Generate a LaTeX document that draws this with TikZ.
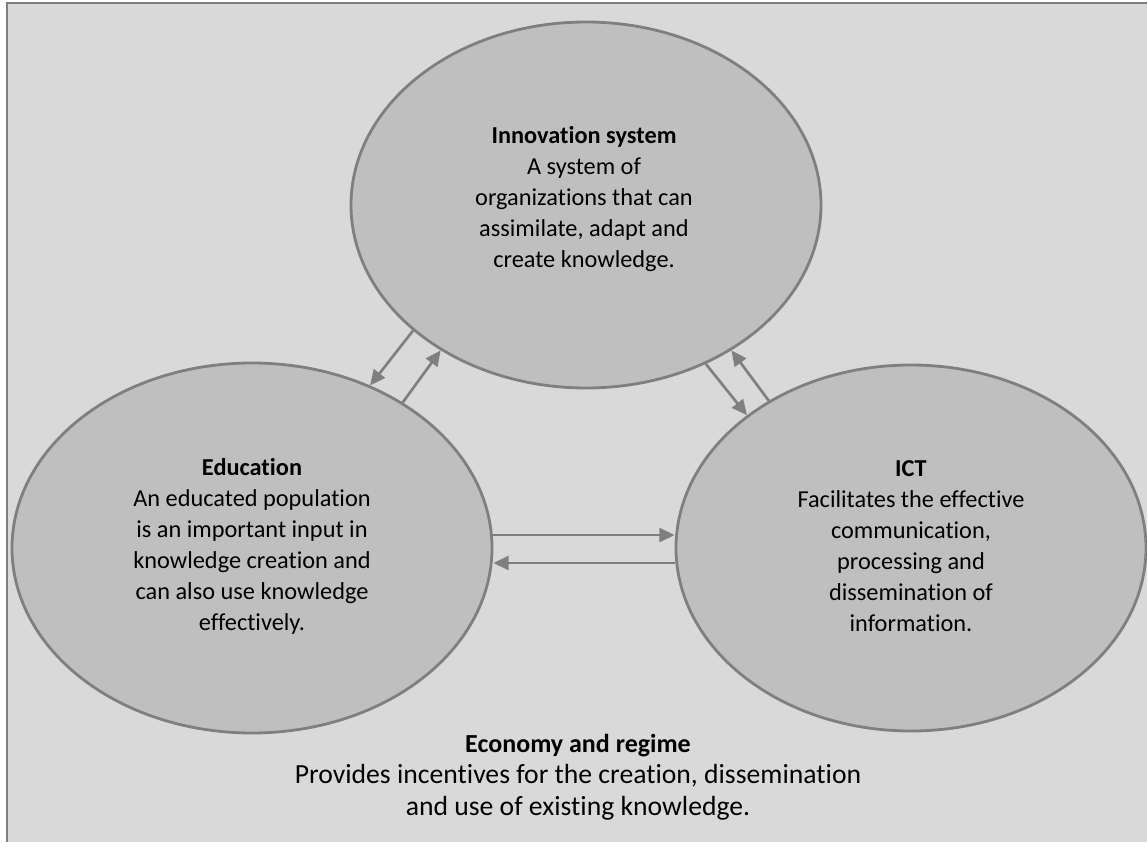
\documentclass[tikz,border=0pt]{standalone}
\usepackage{fontspec}
\setmainfont{Carlito}[Ligatures={NoCommon},RawFeature={-liga}]
\usetikzlibrary{shapes.geometric,arrows.meta}
\definecolor{bgfill}{HTML}{D9D9D9}
\definecolor{ellfill}{HTML}{BFBFBF}
\definecolor{edgegray}{HTML}{7F7F7F}
\begin{document}
\begin{tikzpicture}[x=0.75pt,y=-0.75pt,
  blob/.style={ellipse, draw=edgegray, line width=2.1pt, fill=ellfill, inner sep=0pt},
  blobtext/.style={align=center, inner sep=0pt, font=\fontsize{18.25}{23.25}\selectfont},
  arr/.style={draw=edgegray, line width=2pt, -{Triangle[length=11.5pt,width=10.5pt]}},
  plain/.style={align=center, inner sep=0pt, font=\fontsize{20.75}{23.6}\selectfont}]
\useasboundingbox (0,0) rectangle (1147,842);
\clip (0,0) rectangle (1147,842);
\draw[draw=edgegray, line width=1.5pt, fill=bgfill] (7,3) rectangle (1170,870);
\node[blob, minimum width=352.5pt, minimum height=274.5pt] (top) at (586,205) {};
\node[blob, minimum width=360pt, minimum height=277.5pt] (left) at (252,548) {};
\node[blob, minimum width=352.5pt, minimum height=274.5pt] (right) at (911,548) {};
\node[blobtext] (toptext) at (584,199)
  {\textbf{Innovation system}\\A system of\\organizations that can\\assimilate, adapt and\\create knowledge.};
\node[blobtext] (lefttext) at (252,546)
  {\textbf{Education}\\An educated population\\is an important input in\\knowledge creation and\\can also use knowledge\\effectively.};
\node[blobtext] (righttext) at (911,546)
  {\textbf{ICT}\\Facilitates the effective\\communication,\\processing and\\dissemination of\\information.};
\node[plain] (econ) at (578,777)
  {{\fontsize{19.5}{23.6}\selectfont\textbf{Economy and regime}}\\Provides incentives for the creation, dissemination\\and use of existing knowledge.};
\draw[arr] (top.216.9) -- (left.54.1);
\draw[arr] (left.44.6) -- (top.225.4);
\draw[arr] (top.307.7) -- (right.141.7);
\draw[arr] (right.134.4) -- (top.315.4);
\draw[arr] ([yshift=9.75pt]left.east) -- ([yshift=9.75pt]right.west);
\draw[arr] ([yshift=-11.25pt]right.west) -- ([yshift=-11.25pt]left.east);
\end{tikzpicture}
\end{document}
